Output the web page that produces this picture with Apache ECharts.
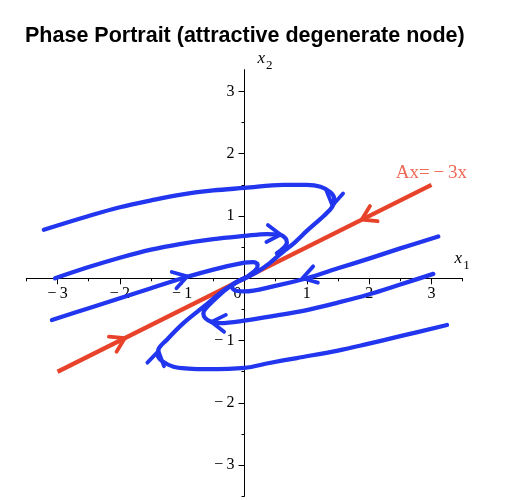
<!DOCTYPE html>
<html><head><meta charset="utf-8">
<script src="https://cdn.jsdelivr.net/npm/echarts@6/dist/echarts.min.js"></script>
<style>html,body{margin:0;padding:0;background:#fff}#c{width:528px;height:500px}</style>
</head><body><div id="c"></div>
<script>
// ---- data ----
const chartTitle = 'Phase Portrait (attractive degenerate node)';
const xRange = [-3.5, 3.5];
const yRange = [-3.5, 3.35];
const xTickValues = [-3, -2, -1, 0, 1, 2, 3];
const xHalfTicks = [-3.5, -2.5, -1.5, -0.5, 0.5, 1.5, 2.5, 3.5];
const yTickValues = [-3, -2, -1, 1, 2, 3];
const yHalfTicks = [-3.5, -2.5, -1.5, -0.5, 0.5, 1.5, 2.5];

// eigen-direction line (red)
const redX = [-3, 3];
const redY = [-1.5, 1.5];
const redLabel = 'Ax=\u2009\u2212\u20093x';

// trajectories (blue)
const curveAx = [-3.22, -2.5, -2.0, -1.5, -1.04, -0.5, 0, 0.62, 1.0, 1.22, 1.38, 1.44, 1.41, 1.27, 1.0, 0.8, 0.6, 0.4, 0.2, 0.07, 0];
const curveAy = [0.78, 1.0, 1.14, 1.25, 1.34, 1.41, 1.45, 1.50, 1.50, 1.47, 1.38, 1.27, 1.15, 1.0, 0.76, 0.57, 0.41, 0.24, 0.1, 0.03, 0];
const curveBx = [-3.04, -2.5, -2.0, -1.5, -1.04, -0.5, 0, 0.36, 0.57, 0.66, 0.68, 0.63, 0.52];
const curveBy = [0.0, 0.18, 0.33, 0.46, 0.55, 0.63, 0.68, 0.71, 0.70, 0.64, 0.57, 0.49, 0.40];
const curveCx = [-3.09, -2.5, -2.0, -1.5, -1.0, -0.5, 0, 0.14, 0.21, 0.2, 0.13, 0.05, 0];
const curveCy = [-0.67, -0.48, -0.32, -0.16, 0.0, 0.14, 0.25, 0.26, 0.22, 0.16, 0.09, 0.03, 0];
const curveDx = [3.11, 2.5, 2.01, 1.5, 1.0, 0.46, 0, -0.14, -0.2, -0.18, -0.11, -0.04, 0];
const curveDy = [0.67, 0.48, 0.32, 0.16, 0.0, -0.13, -0.21, -0.2, -0.14, -0.09, -0.05, -0.02, 0];
const curveEx = [3.03, 2.5, 1.99, 1.5, 1.0, 0.5, 0, -0.39, -0.53, -0.63, -0.66, -0.61, -0.5, -0.3, -0.12, 0];
const curveEy = [0.07, -0.1, -0.26, -0.39, -0.51, -0.6, -0.68, -0.72, -0.7, -0.64, -0.56, -0.47, -0.36, -0.18, -0.06, 0];
const curveFx = [3.25, 2.5, 1.91, 1.5, 0.84, 0.4, 0, -0.61, -0.9, -1.14, -1.32, -1.39, -1.38, -1.25, -0.98, -0.66, -0.34, -0.1, 0];
const curveFy = [-0.75, -0.93, -1.07, -1.16, -1.28, -1.36, -1.44, -1.46, -1.45, -1.42, -1.33, -1.24, -1.14, -0.99, -0.72, -0.46, -0.2, -0.05, 0];

// direction arrows: tip position and heading (degrees)
const blueArrowX = [1.41, 0.58, -0.92, 0.93, -0.53, -1.38];
const blueArrowY = [1.17, 0.70, 0.03, 0.0, -0.70, -1.17];
const blueArrowAngle = [-100, -5, 16, 196, 174, 78];
const redArrowX = [-1.92, 1.88];
const redArrowY = [-0.96, 0.94];
const redArrowAngle = [26.6, 206.6];

// ---- layout / styles ----
const GRID = { left: 26.4, top: 69.6, width: 436.2, height: 426.7 };
const BLUE = '#2136ee';
const RED = '#e8432a';
const SERIF = '"Liberation Serif","Times New Roman",serif';

// offsets that bring the axes onto the origin
const xAxisOffset = -GRID.height * (0 - yRange[0]) / (yRange[1] - yRange[0]);
const yAxisOffset = -GRID.width * (0 - xRange[0]) / (xRange[1] - xRange[0]);

function pairs(xs, ys) { return xs.map((x, i) => [x, ys[i]]); }
function curveSeries(name, xs, ys) {
  return {
    name: name, type: 'line', data: pairs(xs, ys), smooth: 0.35,
    showSymbol: false, symbol: 'none', z: 3,
    lineStyle: { color: BLUE, width: 4.3, cap: 'round', join: 'round' },
    emphasis: { disabled: true }, animation: false
  };
}
function arrowSeries(name, xs, ys, angs, color, z) {
  return {
    name: name, type: 'custom', z: z, animation: false,
    data: xs.map((x, i) => [x, ys[i], angs[i]]),
    renderItem: function (params, api) {
      const p = api.coord([api.value(0), api.value(1)]);
      const a = api.value(2) * Math.PI / 180;
      const back = a + Math.PI, h = 32 * Math.PI / 180, L = 16;
      const p1 = [p[0] + L * Math.cos(back + h), p[1] - L * Math.sin(back + h)];
      const p2 = [p[0] + L * Math.cos(back - h), p[1] - L * Math.sin(back - h)];
      return {
        type: 'polyline', shape: { points: [p1, p, p2] },
        style: { stroke: color, lineWidth: 3.8, fill: null, lineCap: 'round', lineJoin: 'round' }
      };
    }
  };
}

const tickLabel = v => (v < 0 ? '\u2212\u2009' + (-v) : (v === 0 ? '{z|0}' : String(v)));
const labelStyle = { fontFamily: SERIF, fontSize: 16, color: '#000' };
const nameRich = () => ({
  i: { fontFamily: SERIF, fontStyle: 'italic', fontSize: 17, color: '#000' },
  s: { fontFamily: SERIF, fontSize: 13, color: '#000', padding: [14, 0, 0, 1] }
});

const chart = echarts.init(document.getElementById('c'), null, { renderer: 'canvas' });
chart.setOption({
  animation: false,
  backgroundColor: '#fff',
  title: {
    text: chartTitle, left: 25, top: 25, padding: 0,
    textStyle: { fontFamily: '"Liberation Sans",Arial,Helvetica,sans-serif', fontWeight: 'bold', fontSize: 21.5, color: '#000' }
  },
  grid: { left: GRID.left, top: GRID.top, width: GRID.width, height: GRID.height, outerBoundsMode: 'none', containLabel: false },
  xAxis: [{
    type: 'value', min: xRange[0], max: xRange[1], position: 'bottom', offset: xAxisOffset,
    name: '{i|x}{s|1}', nameLocation: 'end', nameGap: -8, nameMoveOverlap: false,
    nameTextStyle: { align: 'left', verticalAlign: 'bottom', padding: [0, 0, 6, 0], rich: nameRich() },
    axisLine: { onZero: false, lineStyle: { color: '#000', width: 1 } },
    axisTick: { show: true, inside: false, length: 6, customValues: xTickValues, lineStyle: { color: '#000' } },
    axisLabel: { show: true, margin: 8, customValues: xTickValues, formatter: tickLabel, ...labelStyle,
      rich: { z: { fontFamily: SERIF, fontSize: 16, color: '#000', padding: [0, 14, 0, 0] } } },
    splitLine: { show: false }
  }, {
    type: 'value', min: xRange[0], max: xRange[1], gridIndex: 0, position: 'bottom', offset: xAxisOffset,
    axisLine: { show: false, onZero: false },
    axisTick: { show: true, inside: false, length: 3, customValues: xHalfTicks, lineStyle: { color: '#000' } },
    axisLabel: { show: false }, splitLine: { show: false }
  }],
  yAxis: [{
    type: 'value', min: yRange[0], max: yRange[1], position: 'left', offset: yAxisOffset,
    name: '{i|x}{s|2}', nameLocation: 'end', nameGap: -2, nameMoveOverlap: false,
    nameTextStyle: { align: 'left', verticalAlign: 'bottom', padding: [0, 0, 0, 13], rich: nameRich() },
    axisLine: { onZero: false, lineStyle: { color: '#000', width: 1 } },
    axisTick: { show: true, inside: false, length: 6, customValues: yTickValues, lineStyle: { color: '#000' } },
    axisLabel: { show: true, margin: 10, customValues: yTickValues, formatter: tickLabel, ...labelStyle },
    splitLine: { show: false }
  }, {
    type: 'value', min: yRange[0], max: yRange[1], gridIndex: 0, position: 'left', offset: yAxisOffset,
    axisLine: { show: false, onZero: false },
    axisTick: { show: true, inside: false, length: 3, customValues: yHalfTicks, lineStyle: { color: '#000' } },
    axisLabel: { show: false }, splitLine: { show: false }
  }],
  series: [
    {
      name: 'eigenline', type: 'line', data: pairs(redX, redY), showSymbol: false, symbol: 'none', z: 2,
      lineStyle: { color: RED, width: 4.3 }, emphasis: { disabled: true }
    },
    {
      name: 'eigenlabel', type: 'scatter', z: 2, symbolSize: 0, silent: true,
      data: [[redX[redX.length - 1], redY[redY.length - 1]]],
      label: { show: true, position: 'top', distance: 2, formatter: redLabel,
        fontFamily: SERIF, fontSize: 19, color: RED }
    },
    arrowSeries('redArrows', redArrowX, redArrowY, redArrowAngle, RED, 2),
    curveSeries('A', curveAx, curveAy),
    curveSeries('B', curveBx, curveBy),
    curveSeries('C', curveCx, curveCy),
    curveSeries('D', curveDx, curveDy),
    curveSeries('E', curveEx, curveEy),
    curveSeries('F', curveFx, curveFy),
    arrowSeries('blueArrows', blueArrowX, blueArrowY, blueArrowAngle, BLUE, 4)
  ]
});
</script></body></html>
